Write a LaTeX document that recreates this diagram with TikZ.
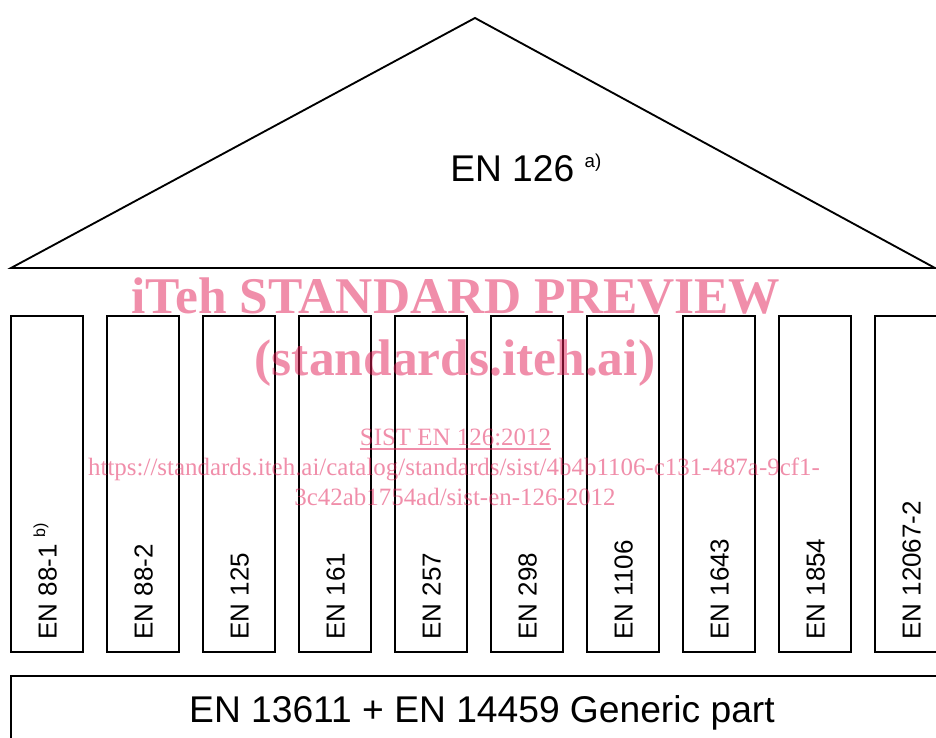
\documentclass[tikz,border=0pt]{standalone}
\usepackage{fontspec}
\setmainfont{Liberation Sans}
\newfontfamily\wmfont{Liberation Serif}
\usetikzlibrary{calc}
\definecolor{wmpink}{RGB}{225,29,85}
\begin{document}
\begin{tikzpicture}[x=0.75pt,y=-0.75pt,
  frame/.style={draw=black,line width=1.4pt},
  collbl/.style={inner sep=0pt,anchor=base west,rotate=90,font=\fontsize{19.5}{22}\selectfont},
  bigtxt/.style={inner sep=0pt,font=\fontsize{27.9}{30}\selectfont},
  wmbig/.style={inner sep=0pt,anchor=base,text=wmpink,text opacity=0.5,font=\wmfont\bfseries\fontsize{38.6}{40}\selectfont},
  wmsmall/.style={inner sep=0pt,anchor=base,text=wmpink,text opacity=0.5,font=\wmfont\fontsize{18.7}{20}\selectfont}]
\useasboundingbox (0,0) rectangle (936,738);
\clip (0,0) rectangle (936,738);
% roof
\coordinate (roofL) at (11,268);
\coordinate (roofT) at (475,18);
\coordinate (roofR) at (935,268);
\draw[frame,line join=miter] (roofL) -- (roofT) -- (roofR) -- cycle;
\node[bigtxt,anchor=base west] (en126) at (450,182) {EN 126 \raisebox{11pt}{\fontsize{14}{16}\selectfont a)}};
% columns
\foreach \i/\lab in {0/{EN 88-1 \raisebox{8.5pt}{\fontsize{12}{14}\selectfont b)}},1/EN 88-2,2/EN 125,3/EN 161,4/EN 257,5/EN 298,6/EN 1106,7/EN 1643,8/EN 1854,9/EN 12067-2}{
  \draw[frame] ({11+96*\i},316) rectangle ({83+96*\i},652);
  \node[collbl] (col\i) at ({56.5+96*\i},640) {\lab};
}
% base
\draw[frame] (11,676) rectangle (980,780);
\node[bigtxt,anchor=base] (generic) at (482,722) {EN 13611 + EN 14459 Generic part};
% watermark
\node[wmbig] (wm1) at (456,314) {iTeh STANDARD PREVIEW};
\node[wmbig] (wm2) at (455,375) {(standards.iteh.ai)};
\node[wmsmall] (wm3) at (455.5,445) {SIST EN 126:2012};
\draw[draw=wmpink,draw opacity=0.5,line width=0.9pt] ($(wm3.base west)+(0,4)$) -- ($(wm3.base east)+(0,4)$);
\node[wmsmall] (wm4) at (454,475) {https://standards.iteh.ai/catalog/standards/sist/4b4b1106-c131-487a-9cf1-};
\node[wmsmall] (wm5) at (455,505) {3c42ab1754ad/sist-en-126-2012};
\end{tikzpicture}
\end{document}
